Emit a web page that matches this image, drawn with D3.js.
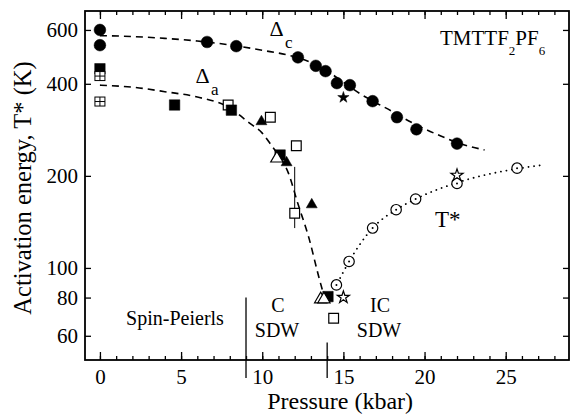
<!DOCTYPE html>
<html>
<head>
<meta charset="utf-8">
<script src="https://cdn.jsdelivr.net/npm/d3@7/dist/d3.min.js"></script>
<style>
  body { margin: 0; background: #fff; }
  svg text { font-family: "Liberation Serif", "Times New Roman", serif; fill: #000; }
</style>
</head>
<body>
<div id="chart"></div>
<script>
// values: pressure in kbar, energy / T* in K

// delta_c (filled circles)
const deltaCPressure = [0, 0, 6.6, 8.4, 12.2, 13.3, 13.9, 14.6, 15.4, 16.8, 18.3, 19.5, 22.0];
const deltaCValue = [600, 535, 548, 531, 488, 458, 440, 402, 396, 351, 311, 284, 255];
// filled star
const filledStarPressure = [15.0];
const filledStarValue = [361];

// delta_a
const filledSquarePressure = [0, 4.6, 8.1, 11.1, 14.05];
const filledSquareValue = [448, 341, 328, 234, 80.6];
const openSquarePressure = [7.9, 10.5, 12.1, 12.0, 14.4];
const openSquareValue = [341, 311, 251, 151, 68.5];
const crossSquarePressure = [0, 0];
const crossSquareValue = [424, 350];
const filledTrianglePressure = [9.95, 11.5, 13.05];
const filledTriangleValue = [301, 221, 161];
const openTrianglePressure = [10.9, 13.6, 13.8];
const openTriangleValue = [228, 79, 79];
// error bar on the open square at 12 kbar
const errorBarPressure = [12.0];
const errorBarLow = [135];
const errorBarHigh = [214];

// T*
const tStarPressure = [14.57, 15.35, 16.8, 18.25, 19.45, 22.0, 25.7];
const tStarValue = [88, 105, 135, 155, 168, 189, 212];
const openStarPressure = [15.0, 22.0];
const openStarValue = [80.2, 201];

// guide curves drawn through the data
const curveCPressure = [0, 2, 4, 6, 8, 10, 12, 13, 14, 15, 16, 17, 18, 19, 20, 21, 22, 23.7];
const curveCValue = [575, 571, 563, 552, 536, 515, 490, 470, 440, 405, 372, 347, 325, 303, 285, 270, 257, 243];
const curveAPressure = [0, 2, 4, 6, 7.9, 9.2, 10, 10.6, 11.1, 11.6, 12.2, 12.9, 13.45, 13.75];
const curveAValue = [396, 390, 377, 362, 336, 298, 276, 250, 230, 205, 162, 124, 95, 83];
const curveTPressure = [14.3, 14.57, 15.35, 16.8, 18.25, 19.45, 22.0, 25.7, 27.3];
const curveTValue = [83, 88, 105, 135, 155, 168, 190, 211, 217];

// phase boundaries
const boundaryPressure = [9.0, 14.0];
const boundaryTop = [80, 57];

// ticks
const xMajorTicks = [0, 5, 10, 15, 20, 25];
const xMinorTicks = d3.range(0, 29, 1);
const yTicks = [60, 80, 100, 200, 400, 600];

const zip = (xs, ys) => xs.map((x, i) => ({ p: x, v: ys[i] }));

// set up svg
const W = 570, H = 414;
const margin = { top: 11, right: 1, bottom: 54, left: 85 };
const width = W - margin.left - margin.right;
const height = H - margin.top - margin.bottom;

const svg = d3.select('#chart').append('svg')
    .attr('width', W)
    .attr('height', H);

const plot = svg.append('g')
    .attr('transform', `translate(${margin.left},${margin.top})`);

// scaling
const xScale = d3.scaleLinear()
    .domain([-0.92, 28.9])
    .range([0, width]);

const yScale = d3.scaleLog()
    .domain([50, 692])
    .range([height, 0]);

// axes, ticks point inward
const styleAxis = (g) => {
    g.select('.domain').remove();
    g.selectAll('line').attr('stroke', '#000').attr('stroke-width', 1.3);
    g.selectAll('text')
        .style('font-family', '"Liberation Serif", serif')
        .style('font-size', '21px')
        .attr('fill', '#000');
};

plot.append('g')
    .attr('transform', `translate(0,${height})`)
    .call(d3.axisBottom(xScale).tickValues(xMinorTicks).tickSize(-4).tickFormat(''))
    .call(styleAxis);

plot.append('g')
    .attr('transform', `translate(0,${height})`)
    .call(d3.axisBottom(xScale).tickValues(xMajorTicks).tickSize(-8).tickPadding(9).tickFormat(d3.format('d')))
    .call(styleAxis);

plot.append('g')
    .call(d3.axisTop(xScale).tickValues(xMinorTicks).tickSize(-4).tickFormat(''))
    .call(styleAxis);

plot.append('g')
    .call(d3.axisTop(xScale).tickValues(xMajorTicks).tickSize(-8).tickFormat(''))
    .call(styleAxis);

plot.append('g')
    .call(d3.axisLeft(yScale).tickValues(yTicks).tickSize(-6).tickPadding(7).tickFormat(d3.format('d')))
    .call(styleAxis);

plot.append('g')
    .attr('transform', `translate(${width},0)`)
    .call(d3.axisRight(yScale).tickValues(yTicks).tickSize(-6).tickFormat(''))
    .call(styleAxis);

// frame
plot.append('rect')
    .attr('width', width)
    .attr('height', height)
    .attr('fill', 'none')
    .attr('stroke', '#000')
    .attr('stroke-width', 1.8);

// phase boundaries
plot.selectAll('.boundary')
    .data(boundaryPressure)
    .enter()
    .append('line')
    .attr('class', 'boundary')
    .attr('x1', (d) => xScale(d))
    .attr('x2', (d) => xScale(d))
    .attr('y1', (d, i) => yScale(boundaryTop[i]))
    .attr('y2', height + 18)
    .attr('stroke', '#000')
    .attr('stroke-width', 1.3);

// guide curves
const line = d3.line()
    .x((d) => xScale(d.p))
    .y((d) => yScale(d.v))
    .curve(d3.curveMonotoneX);

plot.append('path')
    .attr('d', line(zip(curveCPressure, curveCValue)))
    .attr('fill', 'none')
    .attr('stroke', '#000')
    .attr('stroke-width', 1.6)
    .attr('stroke-dasharray', '7,5');

plot.append('path')
    .attr('d', line(zip(curveAPressure, curveAValue)))
    .attr('fill', 'none')
    .attr('stroke', '#000')
    .attr('stroke-width', 1.6)
    .attr('stroke-dasharray', '7,5');

plot.append('path')
    .attr('d', line(zip(curveTPressure, curveTValue)))
    .attr('fill', 'none')
    .attr('stroke', '#000')
    .attr('stroke-width', 1.8)
    .attr('stroke-linecap', 'round')
    .attr('stroke-dasharray', '0.1,5.5');

// error bar
plot.selectAll('.errbar')
    .data(errorBarPressure)
    .enter()
    .append('line')
    .attr('class', 'errbar')
    .attr('x1', (d) => xScale(d))
    .attr('x2', (d) => xScale(d))
    .attr('y1', (d, i) => yScale(errorBarLow[i]))
    .attr('y2', (d, i) => yScale(errorBarHigh[i]))
    .attr('stroke', '#000')
    .attr('stroke-width', 1);

// markers
const drawSymbol = (xs, ys, type, size, filled) => {
    plot.append('g')
        .selectAll('path')
        .data(zip(xs, ys))
        .enter()
        .append('path')
        .attr('transform', (d) => `translate(${xScale(d.p)},${yScale(d.v)})`)
        .attr('d', d3.symbol().type(type).size(size))
        .attr('fill', filled ? '#000' : '#fff')
        .attr('stroke', '#000')
        .attr('stroke-width', filled ? 0.5 : 1.2);
};

drawSymbol(openSquarePressure, openSquareValue, d3.symbolSquare, 95, false);
drawSymbol(filledSquarePressure, filledSquareValue, d3.symbolSquare, 110, true);
drawSymbol(openTrianglePressure, openTriangleValue, d3.symbolTriangle, 65, false);
drawSymbol(filledTrianglePressure, filledTriangleValue, d3.symbolTriangle, 52, true);
drawSymbol(deltaCPressure, deltaCValue, d3.symbolCircle, 108, true);
drawSymbol(filledStarPressure, filledStarValue, d3.symbolStar, 40, true);

// squares with a cross inside
const cross = plot.append('g')
    .selectAll('g')
    .data(zip(crossSquarePressure, crossSquareValue))
    .enter()
    .append('g')
    .attr('transform', (d) => `translate(${xScale(d.p)},${yScale(d.v)})`);

cross.append('rect')
    .attr('x', -5).attr('y', -4.5)
    .attr('width', 10).attr('height', 9)
    .attr('fill', '#fff')
    .attr('stroke', '#000')
    .attr('stroke-width', 1);
cross.append('path')
    .attr('d', 'M0,-4.5V4.5M-5,0H5')
    .attr('stroke', '#000')
    .attr('stroke-width', 1);

// T* circles with a dot
const dots = plot.append('g')
    .selectAll('g')
    .data(zip(tStarPressure, tStarValue))
    .enter()
    .append('g')
    .attr('transform', (d) => `translate(${xScale(d.p)},${yScale(d.v)})`);

dots.append('circle')
    .attr('r', 5.2)
    .attr('fill', '#fff')
    .attr('stroke', '#000')
    .attr('stroke-width', 1.2);
dots.append('circle')
    .attr('r', 1)
    .attr('fill', '#000');

drawSymbol(openStarPressure, openStarValue, d3.symbolStar, 45, false);

// labels inside the plot
const addText = (x, y, txt, size, anchor) => svg.append('text')
    .attr('x', x)
    .attr('y', y)
    .attr('text-anchor', anchor || 'middle')
    .style('font-size', size + 'px')
    .text(txt);

addText(175, 325, 'Spin-Peierls', 20);
addText(278, 312, 'C', 20);
addText(277, 337, 'SDW', 20);
addText(380, 312, 'IC', 20);
addText(379, 337, 'SDW', 20);

addText(276.5, 36, '\u0394', 22);
addText(285, 48, 'c', 17, 'start');
addText(202.5, 83, '\u0394', 22);
addText(211, 95, 'a', 17, 'start');

addText(435, 227, 'T*', 23, 'start');

// compound name with subscripts
const formula = svg.append('text')
    .attr('x', 440)
    .attr('y', 45)
    .style('font-size', '21px');
formula.append('tspan').text('TMTTF');
formula.append('tspan').attr('dy', 10).style('font-size', '13px').text('2');
formula.append('tspan').attr('dy', -10).text('PF');
formula.append('tspan').attr('dy', 10).style('font-size', '13px').text('6');

// axis titles
addText(margin.left + xScale(14.8), 409, 'Pressure (kbar)', 24);

svg.append('text')
    .attr('transform', 'translate(31,188) rotate(-90)')
    .attr('text-anchor', 'middle')
    .style('font-size', '24.5px')
    .text('Activation energy, T* (K)');
</script>
</body>
</html>
